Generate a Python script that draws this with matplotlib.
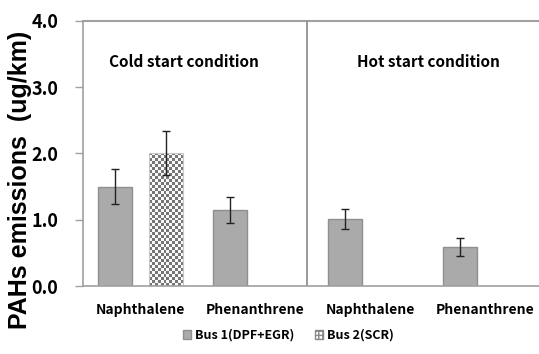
import matplotlib.pyplot as plt
import numpy as np
from matplotlib.patches import Patch

# data
categories = ['Naphthalene', 'Phenanthrene', 'Naphthalene', 'Phenanthrene']
bus1 = [1.50, 1.15, 1.01, 0.59]
bus1_err = [0.27, 0.20, 0.15, 0.13]
bus2 = [2.01, 0, 0, 0]
bus2_err = [0.33, 0, 0, 0]
yticks = [0.0, 1.0, 2.0, 3.0, 4.0]

kr = ['Noto Sans CJK KR', 'DejaVu Sans']
gray = '#aaaaaa'
edge = '#8f8f8f'
axis_col = '#a0a0a0'

fig = plt.figure(figsize=(5.39, 3.54), dpi=100)
ax = fig.add_axes([0.154, 0.192, 0.846, 0.749])

x = np.arange(len(categories))
w = 0.30
off = 0.22

ax.bar(x - off, bus1, w, color=gray, edgecolor=edge, linewidth=1, zorder=2)
ax.errorbar(x - off, bus1, yerr=bus1_err, fmt='none', ecolor='#222222',
            elinewidth=1, capsize=3, capthick=1, zorder=3)

# Bus 2: checkerboard filled bar, only the cold start naphthalene value exists
bars2 = ax.bar(x[:1] + off, bus2[:1], w, facecolor='none', edgecolor='#c8c8c8',
               linewidth=0.8, zorder=2)
for b in bars2:
    bb = b.get_bbox()
    nx, ny = 12, 45
    checker = (np.indices((ny, nx)).sum(axis=0) % 2).astype(float)
    im = ax.imshow(checker, cmap='gray', vmin=-0.9, vmax=1.05,
                   extent=[bb.x0, bb.x1, bb.y0, bb.y1], aspect='auto',
                   interpolation='nearest', zorder=1.9)
    im.set_clip_path(b)
ax.errorbar(x[:1] + off, bus2[:1], yerr=bus2_err[:1], fmt='none', ecolor='#222222',
            elinewidth=1, capsize=3, capthick=1, zorder=3)

ax.set_xlim(-0.5, 3.465)
ax.set_ylim(0, 4.0)
ax.set_yticks(yticks)
ax.set_yticklabels([f'{v:.1f}' for v in yticks], fontsize=13, fontweight='bold',
                   family=kr)
ax.set_xticks(x)
ax.set_xticklabels(categories, fontsize=10, fontweight='bold', family=kr)
ax.tick_params(axis='x', length=0, pad=12)
ax.tick_params(axis='y', length=6, color=axis_col, width=1, pad=12)

for s in ['right', 'top']:
    ax.spines[s].set_visible(False)
for s in ['left', 'bottom']:
    ax.spines[s].set_color(axis_col)
    ax.spines[s].set_linewidth(1.2)
ax.axhline(4.0, color=axis_col, linewidth=1.5, clip_on=False)
ax.axvline(1.45, color='#888888', linewidth=1.2)

ax.set_ylabel('PAHs emissions  (ug/km)', fontsize=18, fontweight='bold',
              family=['Liberation Sans', 'DejaVu Sans'])
ax.yaxis.set_label_coords(-0.112, 0.40)

ax.text(0.375, 3.38, 'Cold start condition', ha='center', va='center',
        fontsize=11, fontweight='bold', family=kr)
ax.text(2.5, 3.38, 'Hot start condition', ha='center', va='center',
        fontsize=11, fontweight='bold', family=kr)

handles = [Patch(facecolor=gray, edgecolor=edge),
           Patch(facecolor='white', edgecolor='#888888', hatch='++++')]
leg = fig.legend(handles, ['Bus 1(DPF+EGR)', 'Bus 2(SCR)'], loc='center',
                 bbox_to_anchor=(0.535, 0.053), ncol=2, frameon=False,
                 handlelength=0.7, handleheight=0.7, handletextpad=0.3,
                 columnspacing=1.6, prop={'family': kr, 'size': 9, 'weight': 'bold'})

fig.savefig('out.png', dpi=100)
